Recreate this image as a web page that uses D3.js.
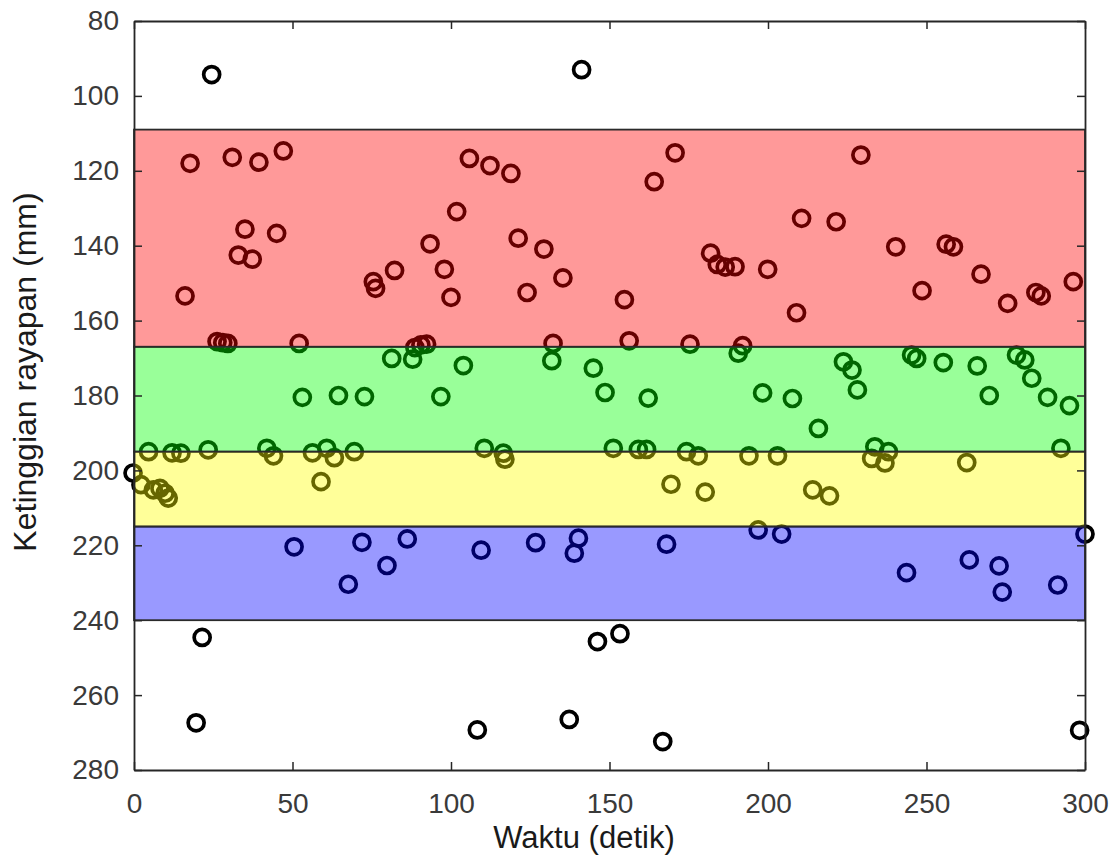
<!DOCTYPE html>
<html>
<head>
<meta charset="utf-8">
<script src="https://cdn.jsdelivr.net/npm/d3@7"></script>
<style>
  body { margin: 0; background: #fff; }
  text { font-family: "Liberation Sans", Arial, sans-serif; }
</style>
</head>
<body>
<svg id="chart"></svg>
<script>
var width = 1119;
var height = 857;

// plot box in pixels
var boxLeft = 134, boxRight = 1085, boxTop = 21, boxBottom = 770;

// time (detik) and height (mm) of every sample
var waktu = [
  24.5, 141.2, 21.5, 19.6, 108.3, 137.3, 146.2, 153.3, 166.8, 298.3,
  -0.3, 300.0,
  17.7, 31.0, 39.4, 47.1, 35.0, 45.0, 32.9, 37.3, 16.1, 75.5, 76.2, 82.2,
  105.8, 112.3, 118.9, 164.1, 170.7, 101.8, 93.4, 97.9, 121.2, 129.3, 135.3,
  181.9, 184.0, 186.5, 189.6, 199.9, 100.0, 124.0, 154.7, 229.3, 210.6, 221.5,
  240.3, 256.2, 258.5, 267.2, 248.6, 275.6, 284.5, 286.2, 296.3, 209.0,
  26.2, 28.0, 29.6, 52.1, 88.6, 90.5, 92.3, 132.2, 156.2, 175.4, 192.0,
  81.3, 87.9, 103.9, 131.8, 144.9, 148.6, 190.6, 53.1, 64.5, 72.7, 96.8,
  162.2, 198.3, 207.7, 215.9, 223.8, 226.5, 228.2, 245.3, 246.9, 255.3,
  266.0, 278.4, 281.0, 283.2, 269.8, 288.2, 295.1,
  4.6, 12.0, 14.8, 23.4, 41.9, 44.0, 56.3, 60.8, 63.2, 69.5, 110.5, 116.5,
  117.0, 151.2, 159.1, 161.7, 174.3, 178.0, 194.0, 203.0, 233.7, 232.7,
  238.0, 236.9, 262.7, 292.4,
  2.2, 6.1, 8.2, 9.8, 10.8, 59.0, 169.4, 180.2, 214.1, 219.4,
  50.5, 71.9, 79.8, 67.6, 86.2, 109.5, 126.7, 140.2, 138.9, 168.0, 196.9,
  204.3, 243.7, 263.5, 272.9, 273.9, 291.4
];
var ketinggian = [
  94.3, 93.0, 244.6, 267.4, 269.3, 266.5, 245.7, 243.6, 272.4, 269.4,
  200.7, 217.0,
  118.0, 116.4, 117.7, 114.7, 135.6, 136.7, 142.5, 143.6, 153.4, 149.6, 151.4, 146.6,
  116.7, 118.6, 120.7, 122.9, 115.2, 130.9, 139.5, 146.3, 138.0, 140.9, 148.6,
  142.0, 145.0, 145.7, 145.6, 146.3, 153.8, 152.5, 154.4, 115.8, 132.7, 133.6,
  140.3, 139.6, 140.3, 147.6, 152.0, 155.4, 152.5, 153.4, 149.6, 157.9,
  165.6, 165.9, 166.1, 166.1, 167.2, 166.5, 166.3, 166.1, 165.4, 166.3, 166.7,
  170.1, 170.3, 172.0, 170.7, 172.7, 179.2, 168.7, 180.5, 180.0, 180.3, 180.3,
  180.7, 179.3, 180.8, 188.8, 171.0, 173.2, 178.5, 169.2, 170.1, 171.2,
  172.1, 169.2, 170.5, 175.4, 180.0, 180.5, 182.7,
  195.0, 195.3, 195.4, 194.5, 194.1, 196.1, 195.3, 194.1, 196.6, 195.0, 194.1, 195.4,
  197.0, 194.1, 194.4, 194.4, 195.0, 196.1, 196.1, 196.1, 193.7, 196.8,
  195.0, 198.0, 197.9, 194.1,
  203.8, 205.2, 204.8, 206.1, 207.4, 203.0, 203.7, 205.8, 205.2, 206.8,
  220.4, 219.2, 225.4, 230.4, 218.3, 221.3, 219.3, 218.1, 222.1, 219.7, 215.9,
  217.0, 227.3, 223.9, 225.5, 232.5, 230.6
];

// translucent zones laid over the markers
var zoneLow = [109, 167, 195, 215];
var zoneHigh = [167, 195, 215, 240];
var zoneColors = ['#ff0000', '#00ff00', '#ffff00', '#0000ff'];

var xTicks = [0, 50, 100, 150, 200, 250, 300];
var yTicks = [80, 100, 120, 140, 160, 180, 200, 220, 240, 260, 280];

var x = d3.scaleLinear().domain([0, 300]).range([boxLeft, boxRight]);
var y = d3.scaleLinear().domain([80, 280]).range([boxTop, boxBottom]);

var svg = d3.select('#chart')
    .attr('width', width)
    .attr('height', height);

svg.append('rect')
    .attr('width', width)
    .attr('height', height)
    .attr('fill', '#fff');

// markers first, the zones go on top of them (like alpha patches in matlab)
var points = waktu.map((t, i) => ({t: t, h: ketinggian[i]}));

svg.append('g')
    .selectAll('circle')
    .data(points)
    .enter()
    .append('circle')
        .attr('cx', d => x(d.t))
        .attr('cy', d => y(d.h))
        .attr('r', 8)
        .attr('fill', 'none')
        .attr('stroke', '#000')
        .attr('stroke-width', 3.7);

svg.append('g')
    .selectAll('rect')
    .data(zoneLow)
    .enter()
    .append('rect')
        .attr('x', x(0))
        .attr('width', x(300) - x(0))
        .attr('y', d => y(d))
        .attr('height', (d, i) => y(zoneHigh[i]) - y(d))
        .attr('fill', (d, i) => zoneColors[i])
        .attr('fill-opacity', 0.4)
        .attr('stroke', '#2a2a2a')
        .attr('stroke-width', 1.8);

// axes with inward ticks, mirrored on top and right
var axisColor = '#262626';

svg.append('g')
    .attr('transform', `translate(0, ${boxBottom})`)
    .call(d3.axisBottom(x).tickValues(xTicks).tickSizeInner(-8).tickSizeOuter(0).tickPadding(23));

svg.append('g')
    .attr('transform', `translate(${boxLeft}, 0)`)
    .call(d3.axisLeft(y).tickValues(yTicks).tickSizeInner(-8).tickSizeOuter(0).tickPadding(15));

svg.append('g')
    .attr('transform', `translate(0, ${boxTop})`)
    .call(d3.axisTop(x).tickValues(xTicks).tickSizeInner(-8).tickSizeOuter(0).tickFormat(''));

svg.append('g')
    .attr('transform', `translate(${boxRight}, 0)`)
    .call(d3.axisRight(y).tickValues(yTicks).tickSizeInner(-8).tickSizeOuter(0).tickFormat(''));

svg.selectAll('.domain').attr('stroke', axisColor).attr('stroke-width', 1.8);
svg.selectAll('.tick line').attr('stroke', axisColor).attr('stroke-width', 1.5);
svg.selectAll('.tick text')
    .attr('fill', '#3a3a3a')
    .style('font-size', '28px')
    .style('font-family', '"Liberation Sans", Arial, sans-serif');

// axis titles
svg.append('text')
    .attr('x', 584)
    .attr('y', 848)
    .attr('text-anchor', 'middle')
    .attr('fill', '#1a1a1a')
    .style('font-size', '31px')
    .text('Waktu (detik)');

svg.append('text')
    .attr('transform', 'translate(36, 372) rotate(-90)')
    .attr('text-anchor', 'middle')
    .attr('fill', '#1a1a1a')
    .style('font-size', '32px')
    .text('Ketinggian rayapan (mm)');
</script>
</body>
</html>
